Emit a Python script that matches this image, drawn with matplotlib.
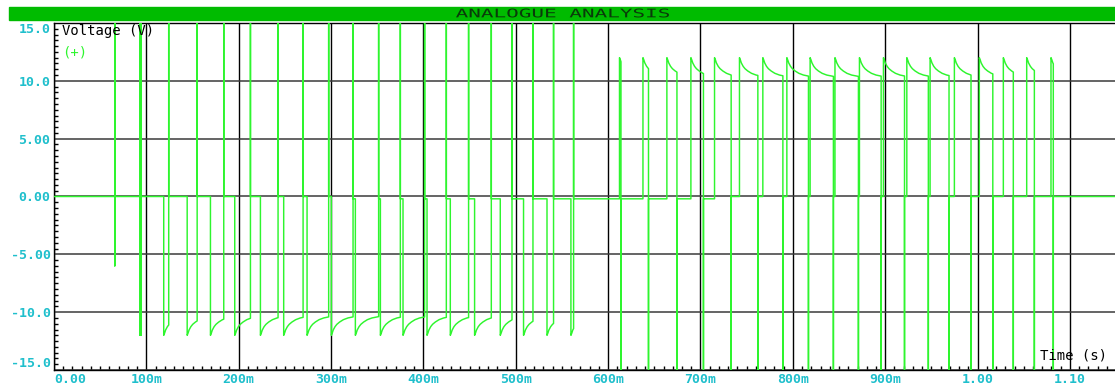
import numpy as np
import matplotlib
matplotlib.use('Agg')
import matplotlib.pyplot as plt
import matplotlib.transforms as mtransforms
from matplotlib.patches import Rectangle, PathPatch
from matplotlib.textpath import TextPath
from matplotlib.font_manager import FontProperties

# event times, in ms
# early glitches: spike up off scale, down to a low value, back to baseline
glitch_t = [65.8, 92.9, 94.4]
glitch_low = [-6.0, -12.0, -12.0]

# first half: drop to -12 V, recover, then spike up off scale
p1_drop = [118.8, 144.2, 169.4, 195.7, 223.5, 248.7, 274.0, 300.3, 326.3,
           353.4, 377.9, 403.9, 429.1, 455.4, 483.2, 508.4, 533.8, 559.7]
p1_spike = [124.2, 155.0, 183.8, 212.7, 242.6, 269.7, 297.4, 323.8, 351.5,
            375.0, 401.3, 424.8, 448.9, 473.5, 495.9, 518.6, 540.9, 562.6]
p1_hold = [0.0, 0.0, 0.0, 0.0, 0.0, 0.0, 0.0, -0.2, -0.2,
           -0.2, -0.2, -0.2, -0.2, -0.2, -0.2, -0.2, -0.2, -0.2]

# second half: rise to +12 V, decay, then spike down off scale
p2_rise = [612.3, 637.7, 663.6, 689.6, 715.2, 742.2, 767.5, 793.5, 818.7, 845.6,
           872.1, 898.1, 923.4, 948.6, 974.9, 1001.9, 1027.9, 1053.2, 1079.5]
p2_fall = [613.9, 643.7, 674.5, 703.2, 733.2, 762.1, 789.2, 816.9, 843.9, 871.0,
           895.6, 920.9, 946.7, 969.1, 992.9, 1016.5, 1038.7, 1061.5, 1082.0]
p2_hold = [-0.2, -0.2, -0.2, -0.2, 0.0, 0.0, 0.0, 0.0, 0.0, 0.0,
           0.0, 0.0, 0.0, 0.0, 0.0, 0.0, 0.0, 0.0, 0.0]

# shape of the recovery after each step (ms after step, |V|)
rec_dt = [0, 1, 2, 4, 6, 9, 13, 18, 24, 32]
rec_mag = [12.0, 11.8, 11.55, 11.25, 11.05, 10.85, 10.65, 10.5, 10.4, 10.3]

spike_top = 20.0   # spikes run off the scale
t_end = 1150.0

yticks = [15, 10, 5, 0, -5, -10, -15]
ylabels = ['15.0', '10.0', '5.00', '0.00', '-5.00', '-10.0', '-15.0']
xticks = [0.0, 0.1, 0.2, 0.3, 0.4, 0.5, 0.6, 0.7, 0.8, 0.9, 1.0, 1.1]
xlabels = ['0.00', '100m', '200m', '300m', '400m', '500m', '600m', '700m',
           '800m', '900m', '1.00', '1.10']

green = '#2EF52E'
cyan = '#1FBFCC'
mono = 'DejaVu Sans Mono'


def recovery(t0, t1, sign):
    dt = np.array(rec_dt, dtype=float)
    mag = np.array(rec_mag)
    keep = dt < (t1 - t0)
    ts = list(t0 + dt[keep]) + [t1]
    vs = list(sign * mag[keep]) + [sign * np.interp(t1 - t0, dt, mag)]
    return ts, vs


tt, vv = [0.0], [0.0]
level = 0.0
for tg, lo in zip(glitch_t, glitch_low):
    tt += [tg, tg, tg, tg]
    vv += [level, spike_top, lo, level]
for td, ts_, h in zip(p1_drop, p1_spike, p1_hold):
    tt.append(td); vv.append(level)
    a, b = recovery(td, ts_, -1)
    tt += a; vv += b
    tt += [ts_, ts_]; vv += [spike_top, h]
    level = h
for tr, tf, h in zip(p2_rise, p2_fall, p2_hold):
    tt.append(tr); vv.append(level)
    a, b = recovery(tr, tf, 1)
    tt += a; vv += b
    tt += [tf, tf]; vv += [-spike_top, h]
    level = h
tt.append(t_end); vv.append(level)

W, H = 1115, 389
fig = plt.figure(figsize=(W / 100, H / 100), dpi=100)
fig.patch.set_facecolor('white')

ax = fig.add_axes([54 / W, 19 / H, (W - 54) / W, 347 / H])
ax.plot(np.array(tt) / 1000.0, vv, color=green, lw=1.05, zorder=3)

ax.set_xlim(0, (W - 53.5) / 924.0)
ax.set_ylim(-15, 15)

ax.set_xticks(xticks)
ax.set_xticklabels(xlabels)
ax.set_yticks(yticks)
ax.set_yticklabels(ylabels)
ax.set_xticks(np.arange(0, 1.15, 0.01), minor=True)
ax.set_yticks(np.arange(-15, 15.01, 0.5), minor=True)

ax.tick_params(which='major', length=0, colors=cyan, labelsize=9.5)
ax.tick_params(axis='x', which='major', pad=2)
ax.tick_params(axis='y', which='major', pad=2.5)
ax.tick_params(which='minor', direction='in', length=3, width=1, color='black')
ax.tick_params(axis='x', which='both', top=False)
ax.tick_params(axis='y', which='both', right=False)
for lab in ax.get_xticklabels() + ax.get_yticklabels():
    lab.set_fontfamily(mono)
    lab.set_fontweight('bold')
ax.get_xticklabels()[0].set_ha('left')
ax.get_yticklabels()[0].set_va('top')
ax.get_yticklabels()[-1].set_va('bottom')

ax.set_axisbelow(True)
ax.xaxis.grid(True, which='major', color='black', lw=1.0)
ax.yaxis.grid(True, which='major', color='#3a3a3a', lw=1.1)
for side in ['left', 'bottom', 'top']:
    ax.spines[side].set_color('black')
    ax.spines[side].set_linewidth(1.0)
ax.spines['right'].set_visible(False)

ax.text(0.0075, 0.977, 'Voltage (V)', transform=ax.transAxes, family=mono,
        fontsize=10, color='black', va='center', ha='left')
ax.text(0.0075, 0.916, '(+)', transform=ax.transAxes, family=mono,
        fontsize=10, color=green, va='center', ha='left')
ax.text(0.9925, 0.043, 'Time (s)', transform=ax.transAxes, family=mono,
        fontsize=10, color='black', va='center', ha='right')

# title bar
fig.patches.append(Rectangle((9 / W, (H - 20) / H), (W - 9) / W, 13 / H,
                             transform=fig.transFigure, color='#00BB00', zorder=0))
tp = TextPath((0, 0), 'ANALOGUE ANALYSIS', size=10, prop=FontProperties(family=mono))
bb = tp.get_extents()
tr = (mtransforms.Affine2D().translate(-bb.x0, -bb.y0)
      .scale(213 / bb.width, 9 / bb.height)
      .translate(456, H - 17.5)
      .scale(1 / W, 1 / H) + fig.transFigure)
fig.patches.append(PathPatch(tp, transform=tr, facecolor='#0A3A0A', edgecolor='none'))

fig.savefig('out.png', dpi=100)
